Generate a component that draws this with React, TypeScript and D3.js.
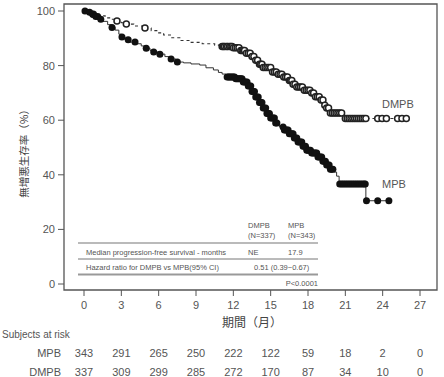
import React from "react";
import * as d3 from "d3";

// ---- data ----
const xTicks = [0, 3, 6, 9, 12, 15, 18, 21, 24, 27];
const yTicks = [0, 20, 40, 60, 80, 100];

const mpbTimes = [0, 0.3, 0.6, 0.9, 1.2, 1.5, 1.9, 2.2, 2.5, 2.8, 3.0, 3.3, 3.6, 4.3, 4.6, 5.0, 5.3, 5.6, 6.0, 6.5, 7.0, 7.4, 8.0, 8.6, 9.3, 9.8, 10.4, 10.8, 11.1, 11.4, 12.2, 12.8, 13.2, 13.5, 13.8, 14.1, 14.4, 14.7, 15.0, 15.4, 15.7, 16.1, 16.5, 16.9, 17.2, 17.6, 17.9, 18.3, 18.8, 19.2, 19.5, 19.8, 20.1, 20.3, 20.5, 22.65];
const mpbSurv = [100, 99.5, 98.8, 98, 97, 96.2, 95, 94, 93, 91.5, 90.5, 89.5, 88.6, 88, 87.2, 86.4, 85.6, 85, 84.2, 83.3, 82.4, 81.3, 81, 80.6, 80.2, 79.2, 78.4, 77.5, 76.9, 75.8, 75.2, 74, 72.5, 70.5, 68.5, 66.5, 64.5, 62.5, 60.8, 59, 57.5, 56.4, 55, 53.5, 52, 50.5, 49, 48, 46.5, 45, 43.6, 42, 41, 39.5, 36.6, 30.5];
const mpbCensor = [
  0.08, 0.45, 0.7, 0.95, 1.1, 1.35, 2.25, 3.05, 3.55, 4.1, 5.0, 5.6, 6.1, 7.0, 7.5,
  11.5, 11.6, 11.7, 11.8, 11.9, 12.0, 12.1, 12.2, 12.3, 12.4, 12.5, 12.6, 12.7, 12.8, 12.9, 13.0, 13.1, 13.2, 13.3, 13.4, 13.5,
  13.6, 13.7, 13.8, 13.9, 14.0, 14.1, 14.2, 14.3, 14.4, 14.5, 14.6, 14.7, 14.8, 14.9, 15.0, 15.1, 15.2, 15.3, 15.4, 15.5,
  16.0, 16.1, 16.2, 16.3, 16.4, 16.5, 16.6, 16.7, 16.8, 16.9, 17.0, 17.1, 17.2, 17.3, 17.4, 17.5, 17.6, 17.7, 17.8, 17.9, 18.0,
  18.1, 18.2, 18.3, 18.4, 18.5, 18.6, 18.7, 18.8, 18.9, 19.0, 19.1, 19.2, 19.3, 19.4, 19.5, 19.6, 19.7, 19.8, 19.9, 20.0,
  20.55, 20.7, 20.85, 21.0, 21.15, 21.3, 21.45, 21.6, 21.75, 21.9, 22.05, 22.2, 22.35, 22.5, 22.6,
  22.7, 23.6, 24.5,
];

const dmpbTimes = [0, 0.4, 0.75, 1.2, 1.7, 2.2, 2.65, 3.0, 3.4, 4.0, 4.9, 5.4, 5.9, 6.4, 7.0, 7.7, 8.5, 9.5, 10.5, 11.1, 12.0, 12.6, 13.0, 13.4, 13.8, 14.1, 14.4, 15.1, 15.6, 16.0, 16.4, 16.8, 17.1, 17.6, 18.2, 18.6, 19.0, 19.3, 19.5, 19.7, 20.9];
const dmpbSurv = [100, 99.5, 98.8, 98.2, 97.5, 97, 96.3, 95.7, 95.2, 94.5, 93.8, 92.8, 92, 91.2, 90.2, 89.2, 88.5, 88, 87.5, 87, 86.5, 85.5, 84.5, 83.3, 82, 80.5, 79.3, 77.7, 76.8, 75.8, 74.5, 73.2, 72.2, 71, 70, 68.6, 67.4, 65.5, 64.5, 62.6, 60.6];
const dmpbCensor = [
  0.75, 2.65, 3.4, 4.9,
  11.1, 11.2, 11.3, 11.45, 11.55, 11.7, 11.8, 11.9, 12.0, 12.15, 12.3, 12.45, 12.6, 12.7, 12.8, 12.9, 13.05, 13.2, 13.35, 13.5, 13.65, 13.8, 13.95,
  14.1, 14.2, 14.3, 14.4, 14.55, 14.7, 14.85, 15.0, 15.15, 15.3, 15.45, 15.6, 15.75, 15.9, 16.05, 16.2, 16.35, 16.5, 16.6, 16.7, 16.8, 16.95,
  17.1, 17.25, 17.4, 17.55, 17.7, 17.85, 18.0, 18.15, 18.3, 18.45, 18.6, 18.75, 18.9, 19.05, 19.2, 19.35, 19.5, 19.65, 19.8, 19.95,
  20.1, 20.25, 20.4, 20.55, 20.7,
  21.0, 21.15, 21.3, 21.45, 21.6, 21.75, 21.9, 22.05, 22.2, 22.35, 22.5, 22.65,
  23.6, 23.95, 24.3, 25.2, 25.55, 25.9,
];

const riskLabels = ["MPB", "DMPB"];
const riskMPB = [343, 291, 265, 250, 222, 122, 59, 18, 2, 0];
const riskDMPB = [337, 309, 299, 285, 272, 170, 87, 34, 10, 0];

const tableHeader = [["DMPB", "(N=337)"], ["MPB", "(N=343)"]];
const tableRow1 = ["Median progression-free survival - months", "NE", "17.9"];
const tableRow2 = ["Hazard ratio for DMPB vs MPB(95% CI)", "0.51 (0.39~0.67)"];
const pValue = "P<0.0001";

// ---- layout ----
const W = 444;
const H = 377;
const FONT = "'Liberation Sans', Arial, sans-serif";
const JFONT = "'Noto Sans CJK JP', sans-serif";
const TXT = "#444";

const x = d3.scaleLinear().domain([0, 27]).range([84, 420]);
const y = d3.scaleLinear().domain([0, 100]).range([284, 11]);

function survAt(times: number[], surv: number[], t: number) {
  const i = d3.bisectRight(times, t) - 1;
  return surv[Math.max(0, i)];
}

function stepPath(times: number[], surv: number[], censor: number[]) {
  const pts: [number, number][] = times.map((t, i) => [t, surv[i]]);
  const lastT = d3.max(censor) as number;
  pts.push([lastT, surv[surv.length - 1]]);
  const line = d3
    .line<[number, number]>()
    .x((d) => x(d[0]))
    .y((d) => y(d[1]))
    .curve(d3.curveStepAfter);
  return line(pts) || "";
}

export default function App() {
  const mpbPath = stepPath(mpbTimes, mpbSurv, mpbCensor);
  const dmpbPath = stepPath(dmpbTimes, dmpbSurv, dmpbCensor);
  const frameL = 64, frameT = 4, frameR = 437, frameB = 290;

  return (
    <svg
      width={W}
      height={H}
      style={{ position: "absolute", left: 0, top: 0, background: "#fff" }}
      fontFamily={FONT}
    >
      <rect x={0} y={0} width={W} height={H} fill="#fff" />
      {/* frame */}
      <path
        d={`M${frameL},${frameT}H${frameR}V${frameB}H${frameL}Z`}
        fill="none"
        stroke="#555"
        strokeWidth={1.3}
      />
      {/* y ticks */}
      {yTicks.map((t) => (
        <g key={t}>
          <line x1={58} x2={frameL} y1={y(t)} y2={y(t)} stroke="#555" strokeWidth={1} />
          <text x={55} y={y(t) + 4} textAnchor="end" fontSize={11} fill="#555">
            {t}
          </text>
        </g>
      ))}
      {/* x ticks */}
      {xTicks.map((t) => (
        <g key={t}>
          <line x1={x(t)} x2={x(t)} y1={frameB} y2={frameB + 6} stroke="#555" strokeWidth={1} />
          <text x={x(t)} y={frameB + 19} textAnchor="middle" fontSize={11} fill="#555">
            {t}
          </text>
        </g>
      ))}
      {/* axis titles */}
      <text x={252} y={327} textAnchor="middle" fontSize={12} fill={TXT} fontFamily={JFONT}>
        期間（月）
      </text>
      <text
        transform="translate(28,151) rotate(-90)"
        textAnchor="middle"
        fontSize={10.5}
        fill={TXT}
        fontFamily={JFONT}
      >
        無増悪生存率（%）
      </text>

      {/* table */}
      <g fontSize={7.5} fill="#555">
        <text x={248} y={228}>{tableHeader[0][0]}</text>
        <text x={248} y={238}>{tableHeader[0][1]}</text>
        <text x={288} y={228}>{tableHeader[1][0]}</text>
        <text x={288} y={238}>{tableHeader[1][1]}</text>
        <line x1={78} x2={318} y1={243} y2={243} stroke="#777" strokeWidth={1.2} />
        <text x={86} y={255}>{tableRow1[0]}</text>
        <text x={248} y={255}>{tableRow1[1]}</text>
        <text x={288} y={255}>{tableRow1[2]}</text>
        <line x1={78} x2={318} y1={259} y2={259} stroke="#777" strokeWidth={1} />
        <text x={86} y={270}>{tableRow2[0]}</text>
        <text x={254} y={270}>{tableRow2[1]}</text>
        <line x1={78} x2={318} y1={274.5} y2={274.5} stroke="#999" strokeWidth={2} />
        <text x={318} y={286} textAnchor="end">{pValue}</text>
      </g>

      {/* curves */}
      <path d={dmpbPath} fill="none" stroke="#333" strokeWidth={1.1} strokeDasharray="3,3" />
      <path d={mpbPath} fill="none" stroke="#333" strokeWidth={1} />
      {dmpbCensor.map((t, i) => (
        <circle
          key={"d" + i}
          cx={x(t)}
          cy={y(survAt(dmpbTimes, dmpbSurv, t))}
          r={3}
          fill="#fff"
          stroke="#222"
          strokeWidth={1.5}
        />
      ))}
      {mpbCensor.map((t, i) => (
        <circle key={"m" + i} cx={x(t)} cy={y(survAt(mpbTimes, mpbSurv, t))} r={3.5} fill="#111" />
      ))}

      {/* series labels */}
      <text x={382} y={108} fontSize={11} fill="#555">DMPB</text>
      <text x={382} y={188} fontSize={11} fill="#555">MPB</text>

      {/* risk table */}
      <text x={2} y={338} fontSize={10} fill="#555">Subjects at risk</text>
      {[riskMPB, riskDMPB].map((row, r) => (
        <g key={r}>
          <text x={61} y={357 + r * 19} textAnchor="end" fontSize={11} fill="#555">
            {riskLabels[r]}
          </text>
          {row.map((v, i) => (
            <text key={i} x={x(xTicks[i])} y={357 + r * 19} textAnchor="middle" fontSize={11} fill="#555">
              {v}
            </text>
          ))}
        </g>
      ))}
    </svg>
  );
}
